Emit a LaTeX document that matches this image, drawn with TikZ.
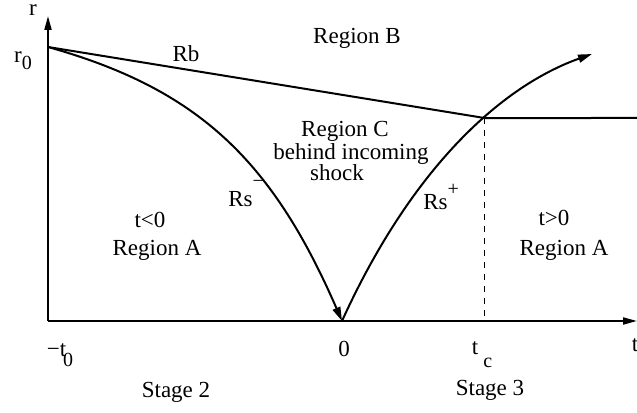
\documentclass[tikz,border=0pt]{standalone}
\usepackage{fontspec}
\setmainfont{Liberation Serif}
\usetikzlibrary{arrows.meta,intersections}
\newcommand\lowered[2][-3.5bp]{\raisebox{#1}{\fontsize{10bp}{10bp}\selectfont #2}}
\newcommand\raised[2][9.5bp]{\raisebox{#1}{\fontsize{10bp}{10bp}\selectfont #2}}
\tikzset{
  axis/.style={-{Triangle[length=7bp,width=3.5bp]},line width=1bp},
  curve/.style={line width=1bp,-{Triangle[length=7bp,width=4bp]}},
  front/.style={line width=1bp},
  dashline/.style={dash pattern=on 3bp off 3bp,line width=0.5bp},
  lbl/.style={inner sep=0pt,font=\fontsize{11.5bp}{13bp}\selectfont}
}

\begin{document}
\begin{tikzpicture}[x=0.5bp,y=-0.5bp]
    \useasboundingbox (0,0) rectangle (637,413);
    \coordinate (A) at (48,321);
    \coordinate (Z) at (342,321);
    \coordinate (Xend) at (637,321);
    \coordinate (Ytop) at (48,16);
    \coordinate (R0) at (48,47);
    \coordinate (Rend) at (637,118);
    \coordinate (Stip) at (592,54);
    \path[name path=rsplus] (Z) .. controls (412,167) and (502,86) .. (Stip);
    \path[name path=level] (48,118) -- (Rend);
    \path[name intersections={of=rsplus and level,by=C}];
    \draw[axis] (A) -- (Xend);
    \draw[axis] (A) -- (Ytop);
    \draw[front] (R0) -- (C) -- (Rend);
    \draw[curve] (R0) .. controls (198,89) and (272,160) .. (Z);
    \draw[curve] (Z) .. controls (412,167) and (502,86) .. (Stip);
    \draw[dashline] (C) -- (C |- Z);
    \node[lbl] (r) at (33,10) {r};
    \node[lbl] (r0) at (23,61) {r\lowered{0}};
    \node[lbl] (rb) at (186,54) {Rb};
    \node[lbl] (regB) at (357,38) {Region B};
    \node[lbl] (regC) at (345,131) {Region C};
    \node[lbl] (behind) at (351,154) {behind incoming};
    \node[lbl] (shock) at (337,173) {shock};
    \node[lbl,anchor=base west] (rsm) at (228,207) {Rs\raised{−}};
    \node[lbl,anchor=base west] (rsp) at (423,210) {Rs\raised[7bp]{+}};
    \node[lbl] (tneg) at (150,220) {t<0};
    \node[lbl] (regAl) at (157,250) {Region A};
    \node[lbl] (tpos) at (554,218) {t>0};
    \node[lbl] (regAr) at (564,250) {Region A};
    \node[lbl] (tzero) at (60,355) {−t\kern-1.5bp\lowered[-5bp]{0}};
    \node[lbl] (zero) at (344,349) {0};
    \node[lbl] (tc) at (482,355) {t\kern2.5bp\lowered[-6.5bp]{c}};
    \node[lbl] (t) at (635,345) {t};
    \node[lbl] (st2) at (176,392) {Stage 2};
    \node[lbl] (st3) at (490,390) {Stage 3};
\end{tikzpicture}
\end{document}
